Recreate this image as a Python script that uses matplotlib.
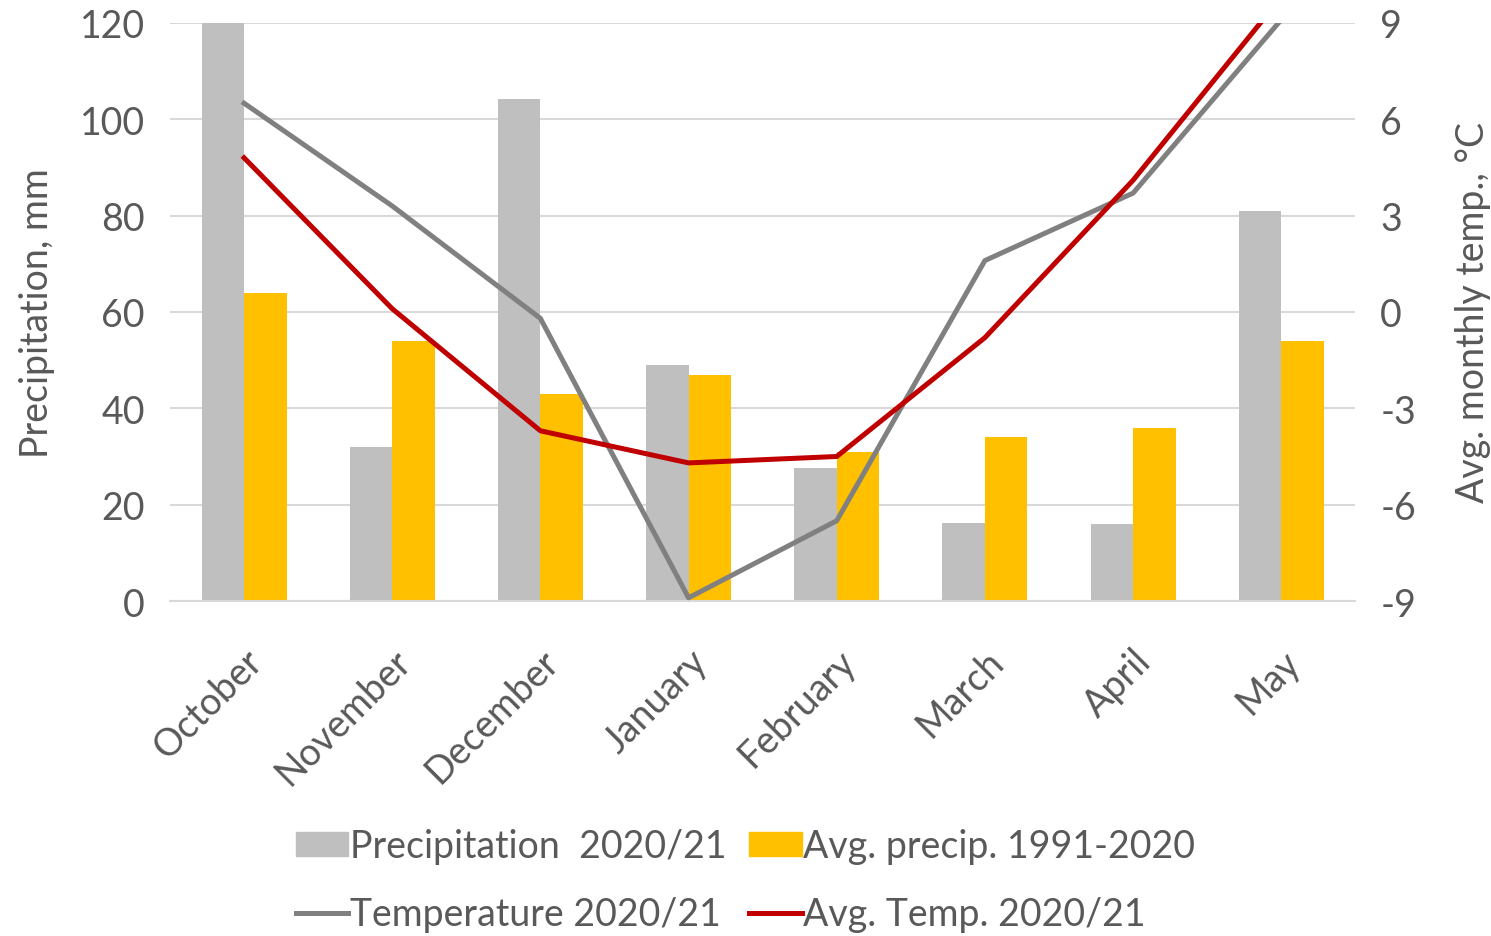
import matplotlib.pyplot as plt
from matplotlib.patches import Patch
from matplotlib.lines import Line2D
import numpy as np

plt.rcParams['font.family'] = ['Lato', 'DejaVu Sans']
plt.rcParams['axes.unicode_minus'] = False

months = ['October', 'November', 'December', 'January', 'February', 'March', 'April', 'May']
precip_2021 = [121, 32, 104.3, 49, 27.6, 16.2, 16, 81]
precip_avg = [64, 54, 43, 47, 31, 34, 36, 54]
temp_2021 = [6.5, 3.3, -0.2, -8.9, -6.5, 1.6, 3.7, 9.1]
temp_avg = [4.8, 0.1, -3.7, -4.7, -4.5, -0.8, 4.1, 9.8]

text_color = '#595959'
grid_color = '#d9d9d9'

fig = plt.figure(figsize=(14.91, 9.37), dpi=100)
ax = fig.add_axes([0.114, 0.3575, 0.795, 0.617])
ax2 = ax.twinx()

x = np.arange(len(months))
w = 0.287
ax.bar(x - w / 2, precip_2021, width=w, color='#bfbfbf', zorder=2)
ax.bar(x + w / 2, precip_avg, width=w, color='#ffc000', zorder=2)

ax.set_xlim(-0.5, len(months) - 0.5)
ax.set_ylim(0, 120)
ax.set_yticks(range(0, 121, 20))
ax.grid(axis='y', color=grid_color, linewidth=1.5, zorder=0)
ax.set_axisbelow(True)

ax2.plot(x, temp_2021, color='#808080', linewidth=3.6, zorder=3)
ax2.plot(x, temp_avg, color='#c00000', linewidth=3.6, zorder=4)
ax2.set_ylim(-9, 9)
ax2.set_yticks(range(-9, 10, 3))

for a in (ax, ax2):
    for s in a.spines.values():
        s.set_visible(False)
    a.tick_params(length=0, labelsize=27, colors=text_color, pad=18)
ax.spines['bottom'].set_visible(True)
ax.spines['bottom'].set_color(grid_color)
ax.spines['bottom'].set_linewidth(1.5)

ax.set_xticks(x)
ax.set_xticklabels(months, rotation=45, ha='right', va='top', rotation_mode='anchor')
ax.tick_params(axis='x', pad=30)

ax.set_ylabel('Precipitation, mm', fontsize=27, color=text_color, labelpad=18)
ax2.set_ylabel('Avg. monthly temp., °C', fontsize=27, color=text_color, labelpad=28)

# column-major fill: left column holds precipitation and temperature
handles = [
    Patch(color='#bfbfbf', label='Precipitation  2020/21'),
    Line2D([], [], color='#808080', linewidth=3.6, label='Temperature 2020/21'),
    Patch(color='#ffc000', label='Avg. precip. 1991-2020'),
    Line2D([], [], color='#c00000', linewidth=3.6, label='Avg. Temp. 2020/21'),
]
fig.legend(handles=handles, loc='lower center', bbox_to_anchor=(0.5, -0.012), ncol=2,
           frameon=False, fontsize=27, labelcolor=text_color, handlelength=1.4,
           handleheight=0.6, handletextpad=0.05, columnspacing=0.6, labelspacing=0.85,
           borderaxespad=0.0)

fig.savefig('out.png', dpi=100)
